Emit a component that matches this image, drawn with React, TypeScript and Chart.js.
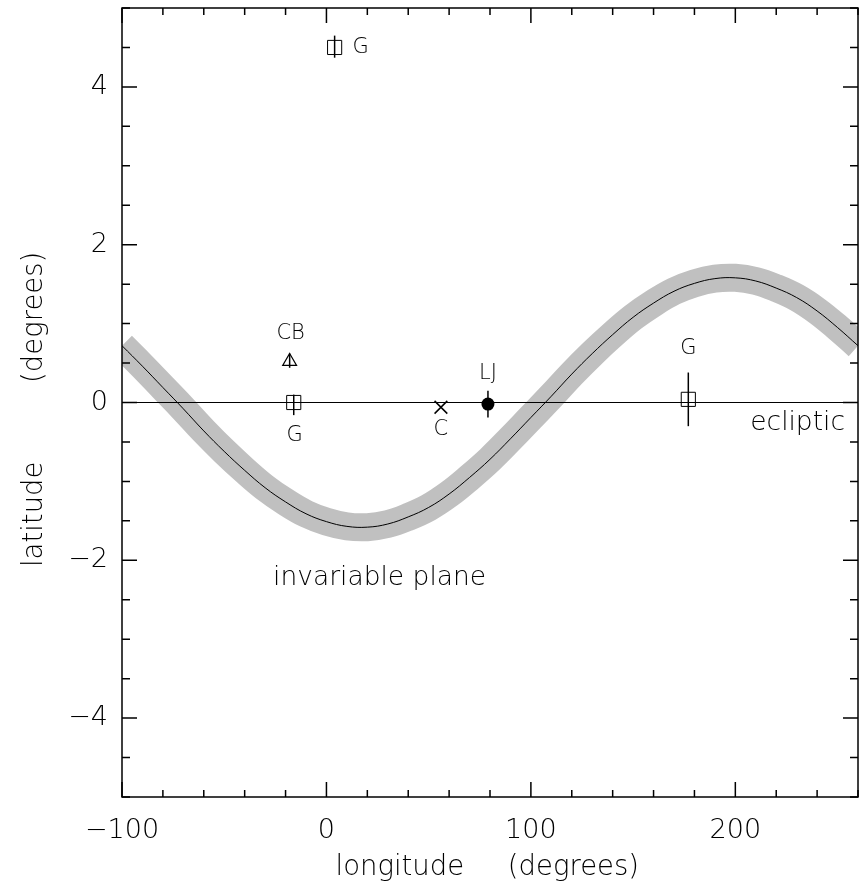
import React, { useEffect, useRef } from 'react';
import { Chart, registerables } from 'chart.js';

Chart.register(...registerables);

// Invariable plane (latitude of the plane vs ecliptic longitude)
const invLon = [-100, -90, -80, -70, -60, -50, -40, -30, -20, -10, 0, 10, 20, 30, 40, 50, 60, 70, 80, 90, 100, 110, 120, 130, 140, 150, 160, 170, 180, 190, 200, 210, 220, 230, 240, 250, 260];
const invLat = [0.72, 0.46, 0.19, -0.08, -0.36, -0.62, -0.86, -1.08, -1.26, -1.41, -1.51, -1.57, -1.58, -1.54, -1.45, -1.33, -1.16, -0.95, -0.72, -0.46, -0.19, 0.08, 0.36, 0.62, 0.86, 1.08, 1.26, 1.41, 1.51, 1.57, 1.58, 1.54, 1.45, 1.33, 1.16, 0.95, 0.72];

// Ecliptic
const eclLon = [-100, 260];
const eclLat = [0, 0];

// G (squares)
const gLon = [4, -16, 177];
const gLat = [4.5, 0.0, 0.04];
const gLo = [4.37, -0.16, -0.3];
const gHi = [4.65, 0.1, 0.38];

// CB (triangle)
const cbLon = [-18];
const cbLat = [0.52];
const cbLo = [0.44];
const cbHi = [0.62];

// C (cross)
const cLon = [56];
const cLat = [-0.06];

// LJ (filled circle)
const ljLon = [79];
const ljLat = [-0.02];
const ljLo = [-0.19];
const ljHi = [0.15];

const xTickValues = [-100, 0, 100, 200];
const yTickValues = [-4, -2, 0, 2, 4];
const xTitle = 'longitude     (degrees)\u2009';
const yTitle = 'latitude         (degrees)\u2002';

const FONT = '"DejaVu Sans"';
const WEIGHT = '200';

const fmt = (v: number) => (v < 0 ? '\u2212' + Math.abs(v) : String(v));

export default function App() {
  const ref = useRef<HTMLCanvasElement | null>(null);

  useEffect(() => {
    document.body.style.margin = '0';
    document.body.style.overflow = 'hidden';
    const canvas = ref.current;
    if (!canvas) return;

    const errDatasets: any[] = [];
    const addErr = (lon: number[], lo: number[], hi: number[]) => {
      lon.forEach((x, i) => {
        errDatasets.push({
          data: [{ x, y: lo[i] }, { x, y: hi[i] }],
          showLine: true,
          borderColor: '#000',
          borderWidth: 1.5,
          pointRadius: 0,
          order: 5,
          clip: 0,
        });
      });
    };
    addErr(gLon, gLo, gHi);
    addErr(cbLon, cbLo, cbHi);
    addErr(ljLon, ljLo, ljHi);

    const labels = [
      { text: 'G', x: gLon[0], y: gLat[0], dx: 26, dy: 0, size: 21, align: 'center' },
      { text: 'G', x: gLon[1], y: gLat[1], dx: 1, dy: 33, size: 21, align: 'center' },
      { text: 'G', x: gLon[2], y: gLat[2], dx: 0, dy: -51, size: 21, align: 'center' },
      { text: 'CB', x: cbLon[0], y: cbLat[0], dx: 1, dy: -28, size: 21, align: 'center' },
      { text: 'C', x: cLon[0], y: cLat[0], dx: 0, dy: 22, size: 21, align: 'center' },
      { text: 'LJ', x: ljLon[0], y: ljLat[0], dx: 0, dy: -31, size: 21, align: 'center' },
      { text: 'ecliptic', x: eclLon[1], y: eclLat[1], dx: -13, dy: 21, size: 26.5, align: 'right' },
      { text: 'invariable plane', x: 26, y: -2.22, dx: 0, dy: 0, size: 26.5, align: 'center' },
    ];

    const framePlugin = {
      id: 'frameTicks',
      afterDraw(chart: any) {
        const { ctx, chartArea: a, scales } = chart;
        const xs = scales.x;
        const ys = scales.y;
        ctx.save();
        ctx.strokeStyle = '#000';
        ctx.lineWidth = 1.5;
        ctx.strokeRect(a.left, a.top, a.right - a.left, a.bottom - a.top);
        ctx.beginPath();
        for (let v = -100; v <= 260; v += 20) {
          const px = xs.getPixelForValue(v);
          const len = v % 100 === 0 ? 15 : 7;
          ctx.moveTo(px, a.bottom);
          ctx.lineTo(px, a.bottom - len);
          ctx.moveTo(px, a.top);
          ctx.lineTo(px, a.top + len);
        }
        for (let v = -5; v <= 5; v += 0.5) {
          const py = ys.getPixelForValue(v);
          const len = Math.abs(v % 2) < 1e-9 ? 15 : 8;
          ctx.moveTo(a.left, py);
          ctx.lineTo(a.left + len, py);
          ctx.moveTo(a.right, py);
          ctx.lineTo(a.right - len, py);
        }
        ctx.stroke();

        ctx.fillStyle = '#000';
        ctx.textBaseline = 'middle';
        labels.forEach((l) => {
          ctx.font = `${WEIGHT} ${l.size}px ${FONT}`;
          ctx.textAlign = l.align;
          ctx.fillText(l.text, xs.getPixelForValue(l.x) + l.dx, ys.getPixelForValue(l.y) + l.dy);
        });
        ctx.restore();
      },
    };

    const tickFont = { family: FONT, size: 27, weight: WEIGHT as any };
    const titleFont = { family: FONT, size: 27.5, weight: WEIGHT as any };

    const chart = new Chart(canvas, {
      type: 'scatter',
      data: {
        datasets: [
          {
            data: invLon.map((x, i) => ({ x, y: invLat[i] })),
            showLine: true,
            borderColor: '#c0c0c0',
            borderWidth: 28,
            pointRadius: 0,
            tension: 0.4,
            order: 10,
            clip: 0,
          },
          {
            data: invLon.map((x, i) => ({ x, y: invLat[i] })),
            showLine: true,
            borderColor: '#000',
            borderWidth: 1,
            pointRadius: 0,
            tension: 0.4,
            order: 9,
            clip: 0,
          },
          {
            data: eclLon.map((x, i) => ({ x, y: eclLat[i] })),
            showLine: true,
            borderColor: '#000',
            borderWidth: 1.2,
            pointRadius: 0,
            order: 8,
            clip: 0,
          },
          ...errDatasets,
          {
            data: gLon.map((x, i) => ({ x, y: gLat[i] })),
            pointStyle: 'rect',
            pointRadius: 10,
            pointBorderWidth: 1,
            pointBorderColor: '#000',
            pointBackgroundColor: 'rgba(0,0,0,0)',
            order: 1,
          },
          {
            data: cbLon.map((x, i) => ({ x, y: cbLat[i] })),
            pointStyle: 'triangle',
            pointRadius: 8,
            pointBorderWidth: 1.2,
            pointBorderColor: '#000',
            pointBackgroundColor: 'rgba(0,0,0,0)',
            order: 1,
          },
          {
            data: cLon.map((x, i) => ({ x, y: cLat[i] })),
            pointStyle: 'crossRot',
            pointRadius: 9,
            pointBorderWidth: 1.5,
            pointBorderColor: '#000',
            order: 1,
          },
          {
            data: ljLon.map((x, i) => ({ x, y: ljLat[i] })),
            pointStyle: 'circle',
            pointRadius: 6.5,
            pointBorderWidth: 0,
            pointBackgroundColor: '#000',
            order: 1,
          },
        ] as any,
      },
      options: {
        animation: false,
        responsive: false,
        events: [],
        layout: { autoPadding: false, padding: { left: 0, top: 8, right: 3, bottom: 0 } },
        plugins: { legend: { display: false }, tooltip: { enabled: false } },
        scales: {
          x: {
            type: 'linear',
            min: -100,
            max: 260,
            afterBuildTicks: (s: any) => {
              s.ticks = xTickValues.map((v) => ({ value: v }));
            },
            afterFit: (s: any) => {
              s.height = 88;
              s.paddingLeft = 0;
              s.paddingRight = 0;
              s.paddingTop = 0;
              s.paddingBottom = 0;
            },
            grid: { display: false, drawTicks: false },
            border: { display: false },
            ticks: {
              callback: (v: any) => fmt(Number(v)),
              font: tickFont,
              color: '#000',
              padding: 18,
              maxRotation: 0,
              autoSkip: false,
            },
            title: { display: true, text: xTitle, font: titleFont, color: '#000', padding: { top: 0, bottom: 1 } },
          },
          y: {
            type: 'linear',
            min: -5,
            max: 5,
            afterBuildTicks: (s: any) => {
              s.ticks = yTickValues.map((v) => ({ value: v }));
            },
            afterFit: (s: any) => {
              s.width = 122;
              s.paddingLeft = 0;
              s.paddingRight = 0;
              s.paddingTop = 0;
              s.paddingBottom = 0;
            },
            grid: { display: false, drawTicks: false },
            border: { display: false },
            ticks: {
              callback: (v: any) => fmt(Number(v)),
              font: tickFont,
              color: '#000',
              padding: 14,
              autoSkip: false,
            },
            title: { display: true, text: yTitle, font: titleFont, color: '#000', padding: { top: 18, bottom: 0 } },
          },
        },
      } as any,
      plugins: [framePlugin],
    });

    return () => chart.destroy();
  }, []);

  return (
    <div style={{ width: 861, height: 885 }}>
      <canvas ref={ref} width={861} height={885} style={{ display: 'block' }} />
    </div>
  );
}
